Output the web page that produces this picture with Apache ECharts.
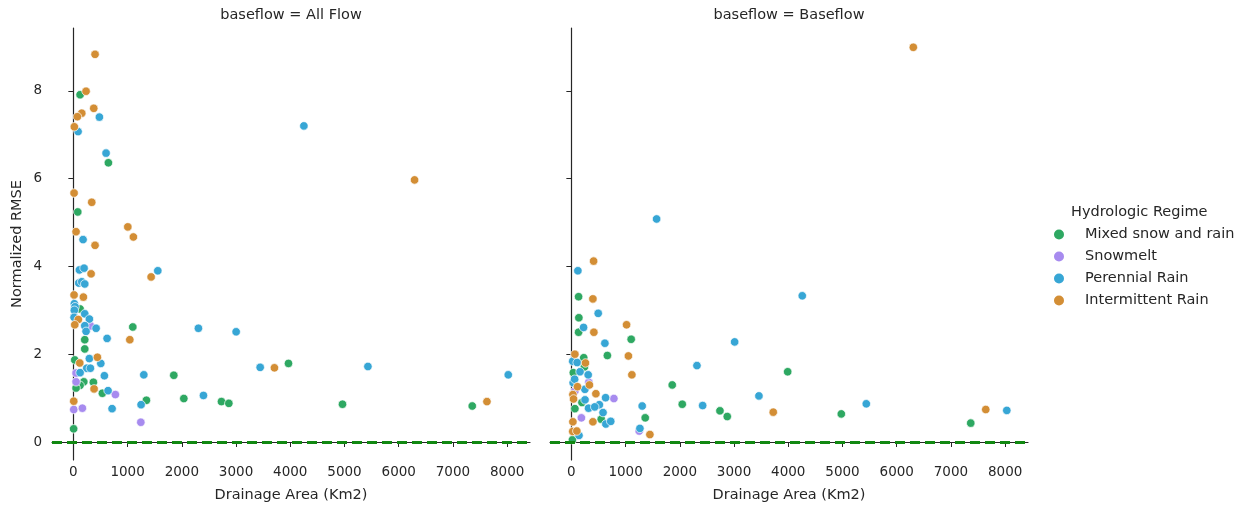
<!DOCTYPE html>
<html><head><meta charset="utf-8">
<script src="https://cdn.jsdelivr.net/npm/echarts@6/dist/echarts.min.js"></script>
<style>html,body{margin:0;padding:0;background:#fff}#c{width:1247px;height:509px}</style>
</head><body><div id="c"></div>
<script>
const panelTitles = ['baseflow = All Flow', 'baseflow = Baseflow'];
const regimes = ['Mixed snow and rain', 'Snowmelt', 'Perennial Rain', 'Intermittent Rain'];
const regimeColors = ['#2ea862', '#a78bef', '#37a6d5', '#d38e35'];
const xTicks = [0, 1000, 2000, 3000, 4000, 5000, 6000, 7000, 8000];
const yTicks = [0, 2, 4, 6, 8];
const zeroLineY = 0;
const xLabel = 'Drainage Area (Km2)';
const yLabel = 'Normalized RMSE';
const legendTitle = 'Hydrologic Regime';

// ---- All Flow panel ----
const allFlowMixed = [[124,7.91],[646,6.36],[81,5.24],[124,3.03],[1096,2.62],[210,2.33],[210,2.12],[26,1.87],[1852,1.52],[3967,1.79],[192,1.37],[124,1.29],[50,1.23],[369,1.36],[535,1.11],[1347,0.95],[2037,0.99],[2731,0.92],[2867,0.88],[5,0.30],[4963,0.86],[7356,0.82]];
const allFlowSnowmelt = [[321,2.64],[50,1.57],[50,1.37],[775,1.08],[7,0.74],[166,0.77],[1244,0.45]];
const allFlowPerennial = [[480,7.40],[87,7.07],[603,6.58],[4251,7.20],[179,4.61],[111,3.92],[197,3.96],[1557,3.90],[100,3.62],[155,3.65],[210,3.60],[18,3.15],[31,3.08],[18,3.00],[13,2.84],[210,2.92],[295,2.80],[210,2.65],[419,2.59],[234,2.52],[2306,2.59],[3002,2.51],[622,2.36],[295,1.90],[506,1.79],[247,1.68],[314,1.68],[124,1.58],[572,1.51],[1299,1.53],[3445,1.70],[640,1.17],[1249,0.85],[2399,1.06],[714,0.76],[5432,1.72],[8020,1.53]];
const allFlowIntermittent = [[400,8.83],[234,7.99],[376,7.60],[155,7.49],[74,7.41],[18,7.18],[13,5.67],[339,5.46],[50,4.79],[1004,4.90],[1107,4.67],[400,4.48],[327,3.83],[1434,3.76],[13,3.35],[185,3.30],[92,2.79],[26,2.67],[1041,2.33],[118,1.80],[443,1.93],[3708,1.69],[382,1.21],[7,0.93],[6292,5.97],[7627,0.92]];

// ---- Baseflow panel ----
const baseMixed = [[133,3.31],[138,2.83],[133,2.50],[1103,2.34],[664,1.97],[3989,1.60],[1860,1.30],[2045,0.86],[2740,0.71],[2875,0.58],[1362,0.55],[228,1.92],[36,1.58],[240,1.71],[195,0.90],[65,0.76],[550,0.52],[20,0.05],[4978,0.64],[7365,0.43]];
const baseSnowmelt = [[322,1.36],[65,1.16],[784,0.99],[185,0.55],[1251,0.25]];
const basePerennial = [[1572,5.08],[120,3.90],[495,2.93],[225,2.61],[618,2.25],[3011,2.28],[2316,1.74],[3459,1.05],[2421,0.83],[1306,0.82],[1264,0.31],[25,1.84],[107,1.81],[160,1.60],[310,1.53],[33,1.35],[60,1.43],[249,1.20],[252,0.96],[631,1.01],[317,0.77],[516,0.85],[431,0.80],[584,0.67],[636,0.41],[726,0.47],[141,0.15],[4258,3.33],[5439,0.87],[8030,0.72]];
const baseIntermittent = [[6306,8.99],[410,4.12],[397,3.26],[415,2.50],[1018,2.67],[1052,1.96],[1116,1.53],[3723,0.68],[1448,0.17],[7642,0.74],[65,2.00],[260,1.80],[113,1.26],[333,1.30],[452,1.10],[28,1.08],[40,0.98],[397,0.46],[28,0.46],[25,0.24],[101,0.25]];

const panels = [
  [allFlowMixed, allFlowSnowmelt, allFlowPerennial, allFlowIntermittent],
  [baseMixed, baseSnowmelt, basePerennial, baseIntermittent]
];

const FONT = 'DejaVu Sans';
const TXT = '#262626';
const FS = 14.5;
const TFS = 13.5;
const gridLefts = [52, 550];
const gridW = 478;

const grids = gridLefts.map(l => ({left: l, top: 28, width: gridW, height: 432}));
const xAxes = gridLefts.map((l, i) => ({
  type: 'value', gridIndex: i, min: -394, max: 8421,
  name: xLabel, nameLocation: 'middle', nameGap: 28,
  nameTextStyle: {fontFamily: FONT, fontSize: FS, color: TXT},
  axisLine: {show: true, lineStyle: {color: '#262626', width: 1.2}},
  axisTick: {show: true, customValues: xTicks, length: 5, lineStyle: {color: '#262626', width: 1}},
  axisLabel: {customValues: xTicks, formatter: v => String(v), fontFamily: FONT, fontSize: TFS, color: TXT, margin: 5},
  splitLine: {show: false}
}));
const yAxes = gridLefts.map((l, i) => ({
  type: 'value', gridIndex: i, min: -0.41, max: 9.43,
  name: i === 0 ? yLabel : '', nameLocation: 'middle', nameGap: 27, nameRotate: 90,
  nameTextStyle: {fontFamily: FONT, fontSize: FS, color: TXT},
  axisLine: {show: true, lineStyle: {color: '#262626', width: 1.2}},
  axisTick: {show: true, customValues: yTicks, length: 5, lineStyle: {color: '#262626', width: 1}},
  axisLabel: {show: i === 0, customValues: yTicks, fontFamily: FONT, fontSize: TFS, color: TXT, margin: 10},
  splitLine: {show: false}
}));

const series = [];
panels.forEach((sets, pi) => {
  sets.forEach((data, ri) => {
    series.push({
      type: 'scatter', name: regimes[ri], xAxisIndex: pi, yAxisIndex: pi,
      data: data, symbol: 'circle', symbolSize: 8.5,
      itemStyle: {color: regimeColors[ri], borderColor: '#ffffff', borderWidth: 0.7, opacity: 1},
      emphasis: {disabled: true}, z: 3
    });
  });
  series.push({
    type: 'line', name: 'zero', xAxisIndex: pi, yAxisIndex: pi, data: [], silent: true, z: 4,
    markLine: {
      silent: true, symbol: ['none', 'none'], label: {show: false},
      lineStyle: {color: '#118811', width: 3, type: [10, 5], opacity: 1},
      emphasis: {disabled: true},
      data: [{yAxis: zeroLineY}], animation: false
    }
  });
});

const chart = echarts.init(document.getElementById('c'), null, {renderer: 'canvas'});
chart.setOption({
  backgroundColor: '#ffffff',
  animation: false,
  title: panelTitles.map((t, i) => ({
    text: t, left: gridLefts[i] + gridW / 2, top: 8, textAlign: 'center', padding: 0,
    textStyle: {fontFamily: FONT, fontSize: FS, fontWeight: 'normal', color: TXT}
  })).concat([{
    text: legendTitle, left: 1071, top: 205, padding: 0,
    textStyle: {fontFamily: FONT, fontSize: FS, fontWeight: 'normal', color: TXT}
  }]),
  legend: {
    data: regimes.map((r, i) => ({name: r, icon: 'circle', itemStyle: {color: regimeColors[i], borderWidth: 0}})),
    orient: 'vertical', left: 1054, top: 227, padding: 0, itemWidth: 10, itemHeight: 10, itemGap: 7,
    textStyle: {fontFamily: FONT, fontSize: FS, color: TXT, padding: [0, 0, 0, 16], lineHeight: 13},
    selectedMode: false
  },
  grid: grids, xAxis: xAxes, yAxis: yAxes, series: series
});
</script></body></html>
